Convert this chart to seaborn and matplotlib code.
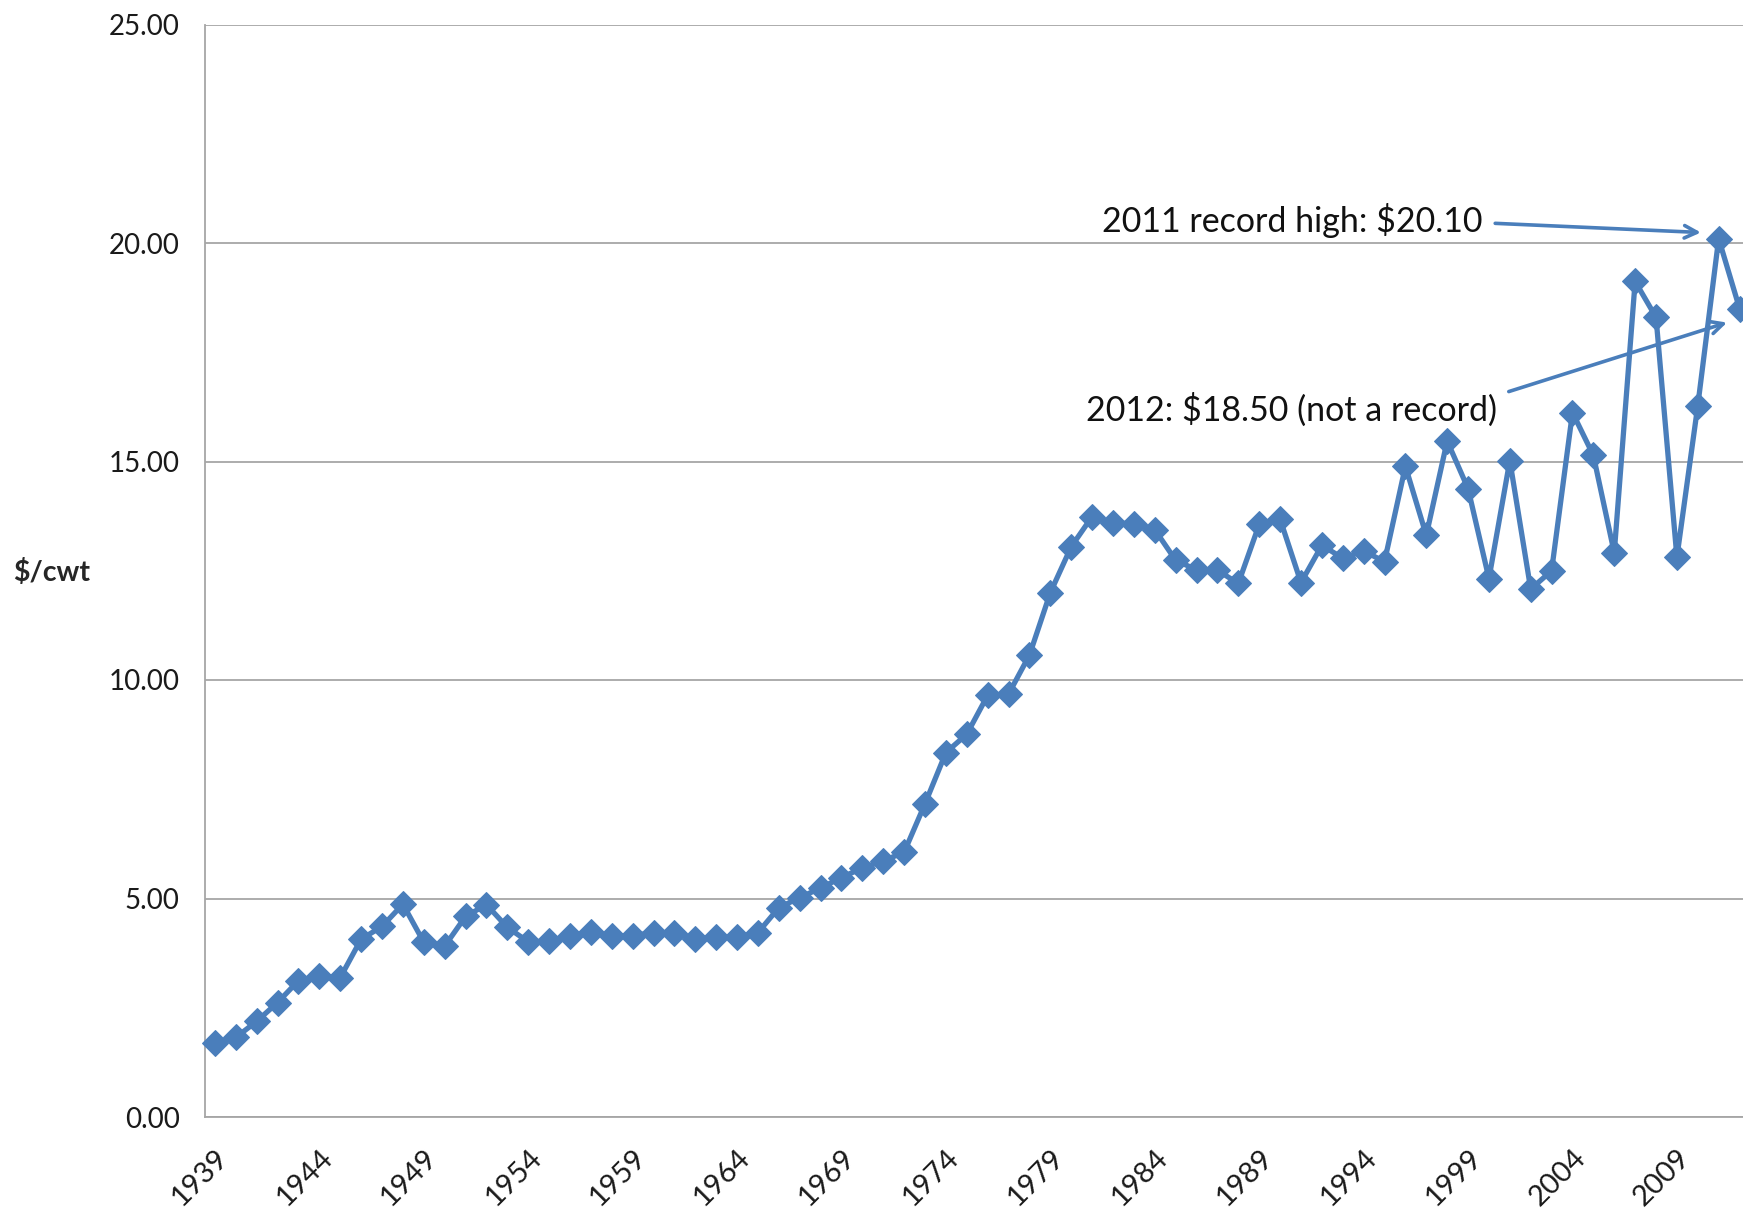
import numpy as np
import pandas as pd
import matplotlib
matplotlib.use("Agg")
import matplotlib.pyplot as plt
import seaborn as sns

years = list(range(1939, 2013))
prices = [1.70, 1.82, 2.19, 2.62, 3.12, 3.23, 3.19, 4.07, 4.36, 4.87, 4.00, 3.91, 4.59, 4.86,
          4.34, 4.01, 4.02, 4.15, 4.24, 4.14, 4.15, 4.22, 4.22, 4.08, 4.11, 4.12, 4.22, 4.79,
          5.02, 5.24, 5.48, 5.70, 5.86, 6.06, 7.17, 8.34, 8.76, 9.65, 9.68, 10.57, 12.00, 13.05,
          13.74, 13.59, 13.58, 13.44, 12.74, 12.52, 12.51, 12.21, 13.56, 13.68, 12.23, 13.08,
          12.79, 12.95, 12.71, 14.89, 13.31, 15.47, 14.38, 12.32, 15.02, 12.08, 12.50, 16.12,
          15.14, 12.91, 19.12, 18.30, 12.81, 16.28, 20.10, 18.50]
y_ticks = [0, 5, 10, 15, 20, 25]
x_label_years = years[::5]
note_2011 = "2011 record high: $20.10"
note_2012 = "2012: $18.50 (not a record)"
y_title = "$/cwt"

df = pd.DataFrame({"year": years, "price": prices})

sns.set_style("white")
plt.rcParams["font.family"] = ["Lato", "DejaVu Sans"]

W, H = 1743, 1208
fig = plt.figure(figsize=(W / 100, H / 100), dpi=100)
ax_left, ax_right = 204.5 / W, 1750 / W
ax_top, ax_bottom = 1 - 24.5 / H, 1 - 1117 / H
ax = fig.add_axes([ax_left, ax_bottom, ax_right - ax_left, ax_top - ax_bottom])

blue = "#4A7EBB"
grey = "#A6A6A6"

sns.lineplot(data=df, x="year", y="price", ax=ax, color=blue, linewidth=3.8,
             marker="D", markersize=13.5, markeredgecolor=blue, markerfacecolor=blue,
             clip_on=False, zorder=3)

ax.set_xlim(years[0] - 0.5, years[-1] + 0.5)
ax.set_ylim(0, 25)
ax.set_yticks(y_ticks)
ax.set_yticklabels([f"{v:.2f}" for v in y_ticks], fontsize=20, color="#1a1a1a")
ax.yaxis.grid(True, color=grey, linewidth=1.3)
ax.set_axisbelow(True)

ax.set_xticks(x_label_years)
ax.set_xticklabels([str(y) for y in x_label_years], rotation=45, ha="right",
                   rotation_mode="anchor", fontsize=21, color="#1a1a1a")
ax.set_xticks([y - 0.5 for y in years] + [years[-1] + 0.5], minor=True)
ax.tick_params(axis="x", which="major", length=0, pad=20)
ax.tick_params(axis="x", which="minor", length=10, width=1.2, color=grey, direction="out")
ax.tick_params(axis="y", which="major", length=10, width=1.2, color=grey, direction="out", pad=8)

for side in ["top", "right"]:
    ax.spines[side].set_visible(False)
for side in ["left", "bottom"]:
    ax.spines[side].set_color(grey)
    ax.spines[side].set_linewidth(1.3)

ax.set_xlabel("")
ax.set_ylabel("")
fig.text(13 / W, 1 - 572 / H, y_title, fontsize=20.5, fontweight="bold", ha="left", va="center")

# annotations
ax.text(1999.7, 20.52, note_2011, fontsize=24.5, ha="right", va="center", color="#111111")
ax.text(2000.4, 16.18, note_2012, fontsize=24.5, ha="right", va="center", color="#111111")
arrow = dict(arrowstyle="->,head_length=0.9,head_width=0.45", color=blue, lw=2.6,
             shrinkA=0, shrinkB=0)
ax.annotate("", xy=(2010.15, 20.24), xytext=(2000.3, 20.45), arrowprops=arrow)
ax.annotate("", xy=(2011.4, 18.18), xytext=(2000.95, 16.6), arrowprops=arrow)

fig.savefig("out.png", dpi=100)
